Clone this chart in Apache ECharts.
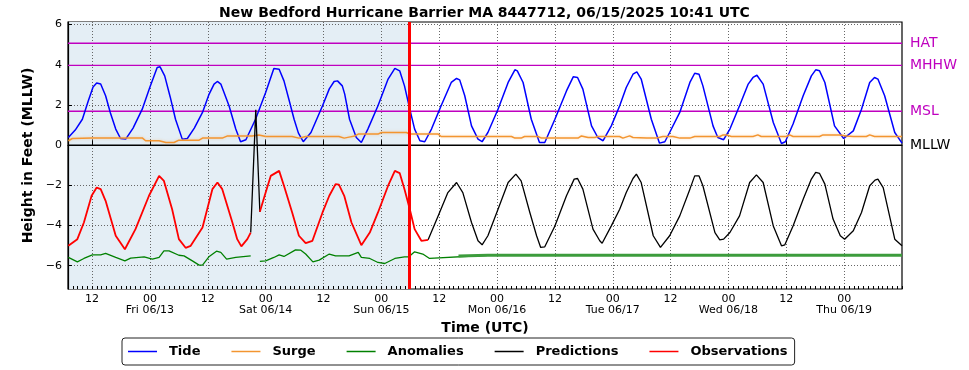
<!DOCTYPE html>
<html><head><meta charset="utf-8">
<script src="https://cdn.jsdelivr.net/npm/echarts@6/dist/echarts.min.js"></script>
<style>html,body{margin:0;padding:0;background:#fff}#c{width:969px;height:370px}</style>
</head><body><div id="c"></div>
<script>
// ---- data (hours since 2025-06-12 00:00 UTC, feet MLLW) ----
const tide = [[7.07,0.38],[8.5,0.75],[9.98,1.29],[11.2,2.2],[12.2,2.9],[12.95,3.09],[13.78,3.04],[14.8,2.46],[15.8,1.6],[16.9,0.8],[17.9,0.33],[18.97,0.30],[20.5,0.85],[22.4,1.79],[24.0,2.9],[25.5,3.87],[26.1,3.9],[27.06,3.45],[28.2,2.4],[29.3,1.29],[30.7,0.30],[31.76,0.33],[33.2,0.85],[34.9,1.63],[36.2,2.5],[37.3,3.04],[37.98,3.17],[38.7,3.04],[40.4,1.96],[41.8,0.8],[42.8,0.17],[43.9,0.27],[45.9,1.29],[48.0,2.62],[49.7,3.82],[50.8,3.78],[51.8,3.2],[52.8,2.3],[53.9,1.29],[54.8,0.6],[55.8,0.17],[57.4,0.63],[59.8,1.96],[61.2,2.8],[62.2,3.17],[62.9,3.2],[63.9,2.95],[64.4,2.54],[65.4,1.29],[66.8,0.38],[67.85,0.13],[69.2,0.8],[71.3,1.96],[73.4,3.29],[74.8,3.82],[75.8,3.7],[76.8,2.95],[77.9,1.79],[78.9,0.8],[80.0,0.22],[81.0,0.17],[82.4,0.8],[84.4,1.96],[86.5,3.12],[87.6,3.32],[88.25,3.25],[89.3,2.46],[90.7,0.96],[92.05,0.30],[92.9,0.17],[94.1,0.63],[96.2,1.79],[98.3,3.12],[99.7,3.75],[100.2,3.7],[101.4,3.12],[103.1,1.29],[104.8,0.13],[105.9,0.13],[108.0,1.29],[110.4,2.7],[111.8,3.4],[112.7,3.37],[113.8,2.79],[115.6,0.96],[116.9,0.38],[118.0,0.22],[119.7,0.96],[121.44,1.96],[122.8,2.87],[124.2,3.53],[125.0,3.65],[125.9,3.29],[128.0,1.29],[129.7,0.10],[130.8,0.17],[131.8,0.63],[133.9,1.63],[136.0,3.12],[137.0,3.58],[137.9,3.53],[138.7,2.95],[140.8,0.96],[141.8,0.38],[143.0,0.27],[144.3,0.8],[146.3,1.96],[148.1,3.04],[149.1,3.37],[149.9,3.48],[151.2,3.04],[153.3,1.13],[155.0,0.08],[155.8,0.17],[157.4,1.05],[159.5,2.46],[161.2,3.45],[162.1,3.75],[162.9,3.70],[164.0,3.12],[166.0,0.96],[167.9,0.33],[169.9,0.71],[171.6,1.79],[173.3,3.12],[174.3,3.37],[175.0,3.29],[176.4,2.46],[178.5,0.63],[180.0,0.10]];

const surge = [[7.07,0.22],[7.9,0.33],[12,0.36],[22.4,0.36],[23.1,0.22],[25.9,0.22],[27.3,0.13],[29,0.13],[30,0.25],[34.2,0.25],[34.9,0.35],[39,0.35],[40.1,0.46],[45.2,0.46],[46.6,0.51],[48,0.43],[53.5,0.43],[54.9,0.35],[56.3,0.43],[63.2,0.43],[64.3,0.35],[65.3,0.40],[66.5,0.46],[67.2,0.55],[71.3,0.55],[72.0,0.63],[77.2,0.63],[77.9,0.55],[83.8,0.55],[84.4,0.43],[99.0,0.43],[99.7,0.35],[101.0,0.35],[101.7,0.43],[104.5,0.43],[105.2,0.35],[112.8,0.35],[113.5,0.46],[114.9,0.38],[116.3,0.38],[116.9,0.43],[121.4,0.43],[122.1,0.35],[123.5,0.46],[124.2,0.38],[127,0.35],[129,0.35],[130.4,0.43],[132.5,0.43],[133.9,0.35],[136,0.35],[137,0.43],[142.2,0.43],[142.9,0.51],[143.6,0.51],[144.6,0.43],[149.1,0.43],[150.1,0.51],[150.8,0.43],[156,0.43],[156.7,0.51],[157.4,0.43],[162.9,0.43],[163.6,0.51],[167.1,0.51],[168.5,0.46],[169.9,0.43],[172.6,0.43],[173.3,0.51],[174.3,0.43],[180,0.43]];

const anomalies = [[7.07,-5.59],[8.94,-5.81],[10.3,-5.64],[12.05,-5.46],[13.78,-5.46],[14.8,-5.39],[16.9,-5.59],[18.8,-5.76],[20.0,-5.62],[22.8,-5.56],[24.5,-5.67],[25.9,-5.59],[26.9,-5.26],[27.96,-5.26],[30.0,-5.48],[31.07,-5.51],[32.8,-5.76],[34.2,-5.97],[34.9,-5.97],[36.3,-5.54],[37.8,-5.28],[38.7,-5.34],[39.9,-5.67],[41.8,-5.59],[44.9,-5.51],[45.9,'-'],[46.8,-5.79],[48.0,-5.76],[49.7,-5.59],[50.8,-5.46],[51.8,-5.54],[54.2,-5.21],[55.3,-5.23],[56.3,-5.42],[57.8,-5.81],[59.1,-5.72],[61.2,-5.42],[62.5,-5.51],[65.3,-5.51],[67.2,-5.34],[67.85,-5.59],[69.6,-5.64],[71.3,-5.84],[72.7,-5.89],[74.8,-5.64],[76.8,-5.56],[77.7,-5.56],[78.9,-5.31],[80.6,-5.42],[82.0,-5.64],[94.1,-5.48]];
const anomalyForecast = [[88.0,-5.52],[94.1,-5.48],[180,-5.48]];

const predictions = [[44.9,-4.35],[45.95,1.76],[46.8,-3.32],[47.5,'-'],[81.7,-4.71],[83.8,-3.52],[85.8,-2.36],[87.6,-1.86],[88.0,-1.91],[88.9,-2.36],[90.7,-3.85],[92.05,-4.76],[92.9,-4.96],[94.1,-4.51],[96.2,-3.19],[98.3,-1.86],[99.9,-1.44],[101.0,-1.78],[102.8,-3.35],[104.2,-4.51],[105.05,-5.09],[105.9,-5.06],[108.0,-4.02],[110.4,-2.52],[112.0,-1.69],[112.7,-1.66],[113.8,-2.19],[115.9,-4.18],[117.3,-4.76],[117.8,-4.88],[119.7,-4.02],[121.44,-3.19],[122.8,-2.36],[124.2,-1.66],[124.9,-1.44],[125.9,-1.86],[128.4,-4.51],[129.9,-5.09],[131.8,-4.51],[133.9,-3.52],[136.0,-2.19],[137.0,-1.53],[137.9,-1.53],[138.7,-2.02],[141.2,-4.35],[142.2,-4.71],[143.0,-4.68],[144.3,-4.35],[146.3,-3.52],[148.4,-1.86],[149.8,-1.48],[151.2,-1.86],[153.3,-4.02],[155.0,-5.01],[155.7,-4.96],[157.4,-4.02],[159.5,-2.69],[161.2,-1.69],[162.1,-1.36],[162.9,-1.41],[164.0,-1.94],[165.7,-3.68],[167.2,-4.51],[168.1,-4.68],[169.9,-4.26],[171.6,-3.35],[173.3,-2.02],[174.4,-1.74],[175.0,-1.69],[176.1,-2.11],[178.5,-4.68],[180.0,-5.01]];

const observations = [[7.07,-5.01],[8.94,-4.68],[10.3,-3.85],[11.9,-2.52],[12.95,-2.11],[13.78,-2.19],[14.8,-2.77],[16.9,-4.51],[18.8,-5.18],[21.0,-4.18],[23.8,-2.52],[25.9,-1.53],[26.9,-1.78],[28.6,-3.19],[30.0,-4.68],[31.4,-5.11],[32.45,-5.01],[34.9,-4.10],[36.95,-2.19],[38.0,-1.86],[39.0,-2.19],[41.1,-3.85],[42.1,-4.68],[42.96,-5.04],[44.2,-4.68],[44.9,-4.35],[45.9,'-'],[46.8,-3.32],[48.0,-2.36],[49.05,-1.53],[50.8,-1.28],[51.8,-2.02],[53.5,-3.35],[54.9,-4.51],[56.3,-4.88],[57.7,-4.76],[59.8,-3.35],[61.2,-2.52],[62.5,-1.94],[63.2,-1.97],[64.3,-2.52],[65.8,-3.85],[67.85,-4.98],[69.6,-4.35],[71.3,-3.35],[73.4,-2.02],[74.8,-1.28],[75.8,-1.39],[76.8,-2.19],[77.9,-3.19],[78.9,-4.18],[80.3,-4.76],[81.7,-4.71]];

const datumNames = ['HAT','MHHW','MSL','MLLW'];
const datumValues = [5.07, 3.97, 1.69, 0];
const datumColors = ['#bf00bf','#bf00bf','#bf00bf','#000000'];
const nowHour = 77.88;
const xMin = 7, xMax = 180;
const yMin = -7.16, yMax = 6.13;
const xTickHours = [12,24,36,48,60,72,84,96,108,120,132,144,156,168];
const xTickLabels = ['12','00\nFri 06/13','12','00\nSat 06/14','12','00\nSun 06/15','12','00\nMon 06/16','12','00\nTue 06/17','12','00\nWed 06/18','12','00\nThu 06/19'];
const xMinorHours = []; for (let h = 8; h <= 180; h++) xMinorHours.push(h);
const yTicks = [-6,-4,-2,0,2,4,6];
const legendNames = ['Tide','Surge','Anomalies','Predictions','Observations'];

const FONT = 'DejaVu Sans';
const chart = echarts.init(document.getElementById('c'), null, {renderer:'canvas'});
const dotted = {color:'#666', width:1, type:[1,2]};

const datumSeries = datumNames.map((n,i) => ({
  type:'line', name:'_' + n, data:[[xMin, datumValues[i]],[xMax, datumValues[i]]], silent:true, z:3,
  showSymbol:false, symbol:'none', color:datumColors[i], lineStyle:{color:datumColors[i], width: i===3 ? 1.3 : 1.4},
  endLabel:{show:true, formatter:n, distance:8, color:datumColors[i], fontSize:14, fontFamily:FONT}
}));

chart.setOption({
  animation:false,
  textStyle:{fontFamily:FONT},
  title:{text:'New Bedford Hurricane Barrier MA 8447712, 06/15/2025 10:41 UTC', left:'center', top:1,
    textStyle:{fontFamily:FONT, fontSize:14, fontWeight:'bold', color:'#000'}},
  grid:{left:68, right:67, top:22, bottom:81, show:true, borderColor:'#000', borderWidth:1.2, backgroundColor:'transparent'},
  legend:{data:legendNames, left:122, top:338, orient:'horizontal', icon:'rect', itemWidth:29, itemHeight:1.5, itemGap:31,
    padding:[7,7,7,6], borderColor:'#222', borderWidth:1, borderRadius:3,
    textStyle:{fontFamily:FONT, fontSize:13, fontWeight:'bold', color:'#000', padding:[0,0,0,7]}},
  xAxis:[{type:'value', min:xMin, max:xMax, z:2, name:'Time (UTC)', nameLocation:'middle', nameGap:29,
    nameTextStyle:{fontFamily:FONT, fontSize:14, fontWeight:'bold', color:'#000'},
    axisLine:{show:true, lineStyle:{color:'#000', width:1.2}},
    axisTick:{show:true, inside:true, length:5, customValues:xTickHours, lineStyle:{color:'#000'}},
    axisLabel:{customValues:xTickHours, margin:4, fontSize:11, lineHeight:11.5, color:'#000', fontFamily:FONT,
      formatter:v => xTickLabels[xTickHours.indexOf(Math.round(v))] || ''},
    splitLine:{show:true, lineStyle:dotted}},
   {type:'value', min:xMin, max:xMax, z:2, position:'bottom', axisLine:{show:false},
    axisTick:{show:true, inside:true, length:3, customValues:xMinorHours, lineStyle:{color:'#000'}},
    axisLabel:{show:false}, splitLine:{show:false}}],
  yAxis:{type:'value', min:yMin, max:yMax, z:2, name:'Height in Feet (MLLW)', nameLocation:'middle', nameGap:27,
    nameTextStyle:{fontFamily:FONT, fontSize:14, fontWeight:'bold', color:'#000'},
    axisLine:{show:true, lineStyle:{color:'#000', width:1.2}},
    axisTick:{show:true, inside:true, length:4, customValues:yTicks, lineStyle:{color:'#000'}},
    axisLabel:{customValues:yTicks, margin:6, fontSize:11, color:'#000', fontFamily:FONT,
      formatter:v => String(Math.round(v)).replace('-','\u2212')},
    splitLine:{show:true, lineStyle:dotted}},
  series:[
    {type:'line', name:'_shade', data:[], z:0, silent:true,
      markArea:{silent:true, z:0, itemStyle:{color:'#e4eef5'}, data:[[{xAxis:xMin},{xAxis:nowHour}]]}},
    ...datumSeries,
    {type:'line', name:'Tide', data:tide, showSymbol:false, symbol:'none', color:'#0000ff', lineStyle:{width:1.5}, z:4},
    {type:'line', name:'Surge', data:surge, showSymbol:false, symbol:'none', color:'#f39530', lineStyle:{width:1.5, shadowColor:'rgba(243,149,48,0.35)', shadowBlur:3}, z:4},
    {type:'line', name:'Anomalies', data:anomalies, showSymbol:false, symbol:'none', color:'#008000', lineStyle:{width:1.3}, z:4},
    {type:'line', name:'Anomalies', data:anomalyForecast, showSymbol:false, symbol:'none', color:'#008000', lineStyle:{width:3, color:'#3c9c3c'}, z:4},
    {type:'line', name:'Predictions', data:predictions, showSymbol:false, symbol:'none', color:'#000000', lineStyle:{width:1.3}, z:4},
    {type:'line', name:'Observations', data:observations, showSymbol:false, symbol:'none', color:'#ff0000', lineStyle:{width:1.8}, z:5},
    {type:'line', name:'_now', data:[], silent:true,
      markLine:{silent:true, z:8, symbol:'none', label:{show:false}, lineStyle:{color:'#ff0000', width:3, type:'solid'},
        data:[{xAxis:nowHour}]}}
  ]
});
</script></body></html>
